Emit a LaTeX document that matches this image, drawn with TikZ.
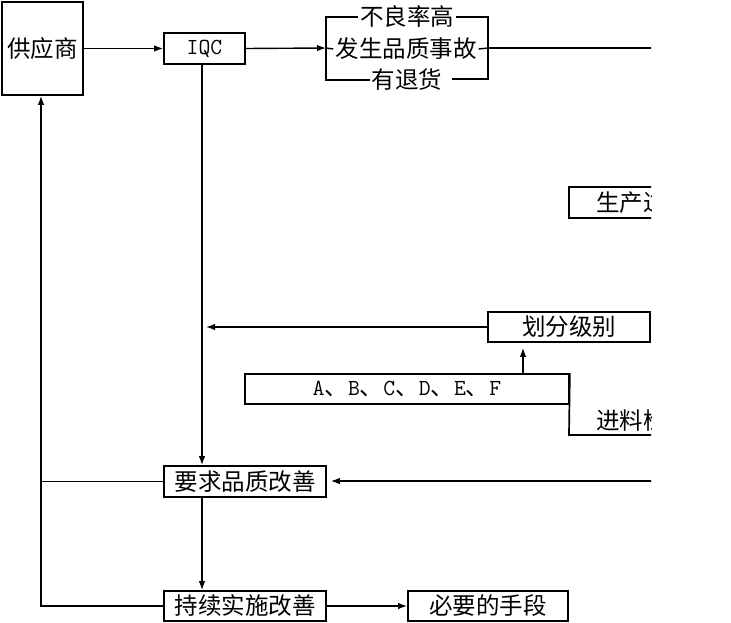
\documentclass[tikz,border=0pt]{standalone}
\usepackage{fontspec}
\setmainfont{Liberation Serif}
\newfontfamily\cjk{Noto Sans CJK SC}
\usetikzlibrary{arrows.meta}
\newcommand{\lt}[1]{{\ttfamily\fontsize{23}{23}\selectfont #1}}
\begin{document}
\begin{tikzpicture}[x=1pt,y=-1pt,
  line width=1.4pt,
  box/.style={draw,line width=1.7pt,inner sep=0pt,font=\cjk\fontsize{23.5}{23.5}\selectfont},
  txt/.style={inner sep=1.5pt,font=\cjk\fontsize{23.5}{23.5}\selectfont},
  arr/.style={-{Latex[length=9pt,width=6.5pt]}}]
\useasboundingbox (0,0) rectangle (731,623);
\fill[white] (0,0) rectangle (731,623);

% boxes
\node[box,minimum width=81pt,minimum height=93pt] (sup) at (42.5,48.5) {供应商};
\node[box,minimum width=81pt,minimum height=31pt] (iqc) at (204.5,48.5) {\lt{IQC}};
\node[box,minimum width=162pt,minimum height=30pt] (grade) at (569,327) {划分级别};
\node[box,minimum width=324pt,minimum height=30pt] (abc) at (407,389)
  {\lt{A}、\lt{B}、\lt{C}、\lt{D}、\lt{E}、\lt{F}};
\node[box,minimum width=162pt,minimum height=31pt] (req) at (245,481.5) {要求品质改善};
\node[box,minimum width=162pt,minimum height=30pt] (cont) at (245,606) {持续实施改善};
\node[box,minimum width=160pt,minimum height=30pt] (means) at (488,606) {必要的手段};

% bracket group
\node[txt] (t1) at (407,17) {不良率高};
\node[txt] (t2) at (406,49) {发生品质事故};
\node[txt] (t3) at (407,80) {有退货};
\coordinate (bl) at (326,48);
\coordinate (br) at (488,48);
\draw (t1.west) -- (326,17) -- (326,80) -- (t3.west);
\draw (t1.east) -- (488,17) -- (488,79) -- ([xshift=8pt]t3.east |- 0,79);
\draw (bl) -- (t2.west);
\draw (t2.east) -- (br);

% clipped right part
\begin{scope}
\clip (0,0) rectangle (651,623);
\coordinate (far1) at (700,48);
\draw (br) -- (far1);
\draw[line width=1.7pt] (700,187) -- (569,187) -- (569,218) -- (700,218);
\node[txt,anchor=west] (prod) at (594,203) {生产过程};
\draw[line width=1.7pt] (abc.north east) -- (569,435) -- (700,435);
\node[txt,anchor=west] (inc) at (594,420) {进料检验};
\coordinate (far2) at (700,481);
\draw[arr,shorten >=4pt] (far2) -- (req.east |- far2);
\end{scope}

% connectors
\draw[arr] (sup.east |- iqc) -- (iqc.west);
\draw[arr] (iqc.east) -- (bl);
\coordinate (v) at (202,64);
\draw[arr] (v) -- (v |- req.north);
\draw[arr] (v |- req.south) -- (v |- cont.north);
\draw[arr,shorten >=4pt] (grade.west) -- (v |- grade.west);
\coordinate (a1) at (523,374);
\draw[arr,shorten >=5pt] (a1) -- (a1 |- grade.south);
\draw[arr] (cont.east) -- (means.west);
\coordinate (lft) at (41,606);
\draw (req.west) -- (lft |- req.west);
\draw[arr] (cont.west) -- (lft) -- (lft |- sup.south);
\end{tikzpicture}
\end{document}
